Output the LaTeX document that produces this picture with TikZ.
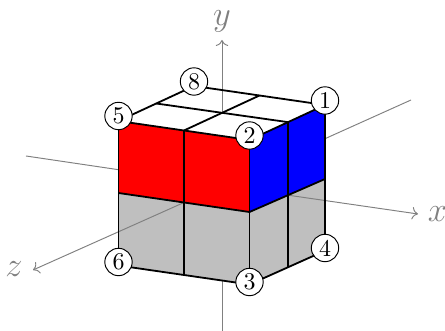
\documentclass[tikz,border=0pt]{standalone}
\usepackage{amsmath,amssymb}
\usepackage{tikz}
\usepackage{xcolor}
\usetikzlibrary{calc, arrows.meta}

\begin{document}
\begin{tikzpicture}[x=0.4167pt, y=-0.4167pt,
    every node/.style={font=\normalsize},
    edge/.style={line width=0.75pt, black},
    axis/.style={gray, line width=0.4pt},
    axislabel/.style={gray, font=\Large, inner sep=0pt},
    corner/.style={circle, draw, fill=white, inner sep=0pt, minimum size=11.4pt}]
  \useasboundingbox (0,0) rectangle (445,331);
  % Cube corners
  \coordinate (t5) at (118.5,121);
  \coordinate (t2) at (249.5,140);
  \coordinate (t1) at (325,105);
  \coordinate (t8) at (194,86);
  \coordinate (m5) at (118.5,193);
  \coordinate (m2) at (249.5,212);
  \coordinate (m1) at (325,179);
  \coordinate (b6) at (118.5,265.5);
  \coordinate (b3) at (249.5,284.5);
  \coordinate (b4) at (325,250.7);
  % Midpoints
  \coordinate (tf) at ($(t5)!0.5!(t2)$);
  \coordinate (mf) at ($(m5)!0.5!(m2)$);
  \coordinate (bf) at ($(b6)!0.5!(b3)$);
  \coordinate (tr) at ($(t2)!0.51!(t1)$);
  \coordinate (mr) at ($(m2)!0.51!(m1)$);
  \coordinate (br) at ($(b3)!0.51!(b4)$);
  \coordinate (tb) at ($(t8)!0.5!(t1)$);
  \coordinate (tl) at ($(t5)!0.5!(t8)$);
  % Axis ends
  \coordinate (xa) at (26,156);
  \coordinate (xb) at (118.5,169.7);
  \coordinate (xc) at (418,214);
  \coordinate (za) at (411,100);
  \coordinate (zb) at (325,138.7);
  \coordinate (zc) at (33,270);
  \coordinate (ya) at (222,113);
  \coordinate (yb) at (222,40);
  \coordinate (yc) at (222,280);
  \coordinate (yd) at (222,331);
  % Faces
  \fill[red] (t5) -- (t2) -- (m2) -- (m5) -- cycle;
  \fill[blue] (t2) -- (t1) -- (m1) -- (m2) -- cycle;
  \fill[lightgray] (m5) -- (m2) -- (b3) -- (b6) -- cycle;
  \fill[lightgray] (m2) -- (m1) -- (b4) -- (b3) -- cycle;
  % Axes
  \draw[axis] (xa) -- (xb);
  \draw[axis,->] (mr) -- (xc);
  \draw[axis] (za) -- (zb);
  \draw[axis,->] (mf) -- (zc);
  \draw[axis,->] (ya) -- (yb);
  \draw[axis] (yc) -- (yd);
  \node[axislabel] (xlabel) at (437.5,214) {$x$};
  \node[axislabel] (ylabel) at (222,21) {$y$};
  \node[axislabel] (zlabel) at (14,269) {$z$};
  % Cube edges
  \draw[edge] (t5) -- (t2) -- (t1) -- (t8) -- cycle;
  \draw[edge] (tf) -- (tb);
  \draw[edge] (tl) -- (tr);
  \draw[edge] (m5) -- (m2) -- (m1);
  \draw[edge] (b6) -- (b3) -- (b4);
  \draw[edge] (t5) -- (b6);
  \draw[edge] (tf) -- (bf);
  \draw[edge] (t2) -- (b3);
  \draw[edge] (tr) -- (br);
  \draw[edge] (t1) -- (b4);
  % Numbered corners
  \node[corner] (n1) at (325,100.5) {1};
  \node[corner] (n2) at (249.5,135.5) {2};
  \node[corner] (n3) at (249.5,282) {3};
  \node[corner] (n4) at (325,248) {4};
  \node[corner] (n5) at (118.5,116) {5};
  \node[corner] (n6) at (118.5,262) {6};
  \node[corner] (n8) at (194,81.5) {8};
\end{tikzpicture}
\end{document}
